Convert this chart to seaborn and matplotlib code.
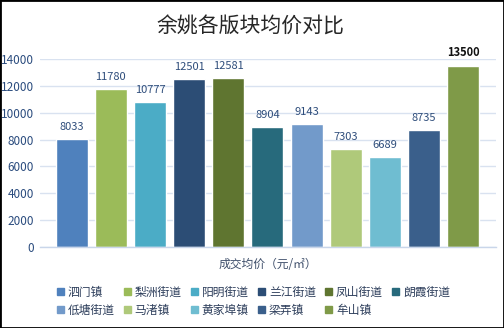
import matplotlib
matplotlib.use("Agg")
import matplotlib.pyplot as plt
import seaborn as sns
import pandas as pd
from matplotlib.patches import Rectangle

categories = ["泗门镇", "梨洲街道", "阳明街道", "兰江街道", "凤山街道", "朗霞街道",
              "低塘街道", "马渚镇", "黄家埠镇", "梁弄镇", "牟山镇"]
values = [8033, 11780, 10777, 12501, 12581, 8904, 9143, 7303, 6689, 8735, 13500]
colors = ["#4F81BD", "#9BBB59", "#4BACC6", "#2C4D75", "#5F7530", "#276A7C",
          "#729ACA", "#AFC97A", "#6FBDD1", "#3A5F8B", "#7F9A48"]
yticks = [0, 2000, 4000, 6000, 8000, 10000, 12000, 14000]
title = "余姚各版块均价对比"
xlabel = "成交均价（元/㎡）"

sns.set_theme(style="white")
plt.rcParams["font.family"] = ["Noto Sans CJK SC", "DejaVu Sans"]

df = pd.DataFrame({"cat": categories, "val": values})

fig = plt.figure(figsize=(5.04, 3.28), dpi=100)
ax = fig.add_axes([40/504, 81/328, 456/504, 188/328])

sns.barplot(data=df, x="cat", y="val", hue="cat", palette=colors, width=0.82,
            dodge=False, legend=False, ax=ax, saturation=1)

ax.set_ylim(0, 14000)
ax.set_xlim(-0.81, 10.84)
ax.set_yticks(yticks)
ax.set_yticklabels([str(t) for t in yticks])
ax.yaxis.grid(True, color="#D9E2F0", linewidth=1)
ax.set_axisbelow(True)
for s in ["top", "right", "left"]:
    ax.spines[s].set_visible(False)
ax.spines["bottom"].set_color("#C9D6EA")
ax.spines["bottom"].set_linewidth(1)
ax.tick_params(axis="y", length=0, pad=4.5, labelsize=8.5, labelcolor="#2B4C7E")
ax.tick_params(axis="x", length=0, labelbottom=False)
ax.set_ylabel("")
ax.set_xlabel(xlabel, fontsize=8.5, color="#3F4F6B", labelpad=8)

for i, v in enumerate(values):
    last = (i == len(values) - 1)
    ax.annotate(str(v), (i, v), xytext=(0, 5), textcoords="offset points",
                ha="center", va="bottom", fontsize=8,
                color="#111111" if last else "#2E4D7B",
                fontweight="bold" if last else "normal")

fig.text(0.497, 1 - 27/328, title, ha="center", va="center", fontsize=15, color="#262626")

handles = [Rectangle((0, 0), 1, 1, color=c) for c in colors]
order = [0, 6, 1, 7, 2, 8, 3, 9, 4, 10, 5]
leg = fig.legend([handles[i] for i in order], [categories[i] for i in order],
                 loc="center", bbox_to_anchor=(0.503, 1 - 301/328), ncol=6, frameon=False,
                 fontsize=8.5, handlelength=0.6, handleheight=0.6, handletextpad=0.3,
                 columnspacing=0.8, labelspacing=0.42, labelcolor="#2E3F5C")

fig.patches.append(Rectangle((0, 0), 1, 1, transform=fig.transFigure, fill=False,
                             edgecolor="black", linewidth=2, zorder=10))

fig.savefig("out.png", dpi=100)
